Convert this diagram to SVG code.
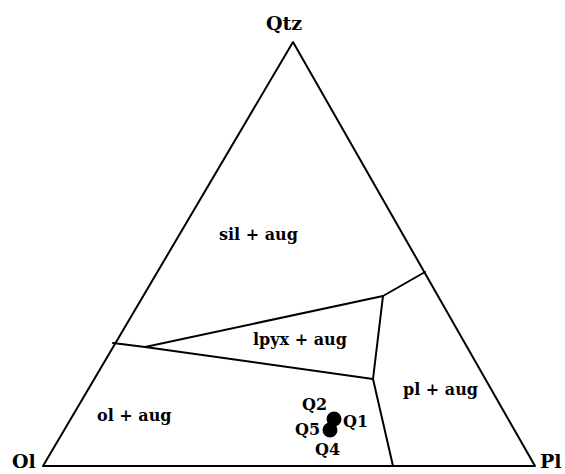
<svg xmlns="http://www.w3.org/2000/svg" width="565" height="474" viewBox="0 0 565 474">
<style>
.edge{fill:none;stroke:#000;stroke-width:2;stroke-linejoin:round;stroke-linecap:round}
.lbl{font-family:"DejaVu Serif","Liberation Serif",serif;font-weight:bold;font-size:16px;fill:#000}
.apex{font-family:"DejaVu Serif","Liberation Serif",serif;font-weight:bold;font-size:19px;fill:#000}
</style>
<rect width="565" height="474" fill="#fff"/>
<g id="connectors">
<polygon class="edge" points="293,42 43,466 535,466"/>
<polyline class="edge" points="113,343 145,347 383,296 425,272"/>
<polyline class="edge" points="145,347 373,379 393,466"/>
<line class="edge" x1="383" y1="296" x2="373" y2="379"/>
</g>
<g id="node-qtz"><text class="apex" x="266" y="30">Qtz</text></g>
<g id="node-ol"><text class="apex" x="12" y="468">Ol</text></g>
<g id="node-pl"><text class="apex" x="540" y="468">Pl</text></g>
<g id="field-sil"><text class="lbl" x="219" y="240">sil + aug</text></g>
<g id="field-lpyx"><text class="lbl" x="253" y="345">lpyx + aug</text></g>
<g id="field-pl"><text class="lbl" x="403" y="395">pl + aug</text></g>
<g id="field-ol"><text class="lbl" x="97" y="421">ol + aug</text></g>
<g id="samples">
<circle cx="334" cy="419" r="7.5" fill="#000"/>
<circle cx="330" cy="430" r="7.5" fill="#000"/>
<text class="lbl" x="302" y="410">Q2</text>
<text class="lbl" x="343" y="427">Q1</text>
<text class="lbl" x="295" y="435">Q5</text>
<text class="lbl" x="315" y="455">Q4</text>
</g>
</svg>
